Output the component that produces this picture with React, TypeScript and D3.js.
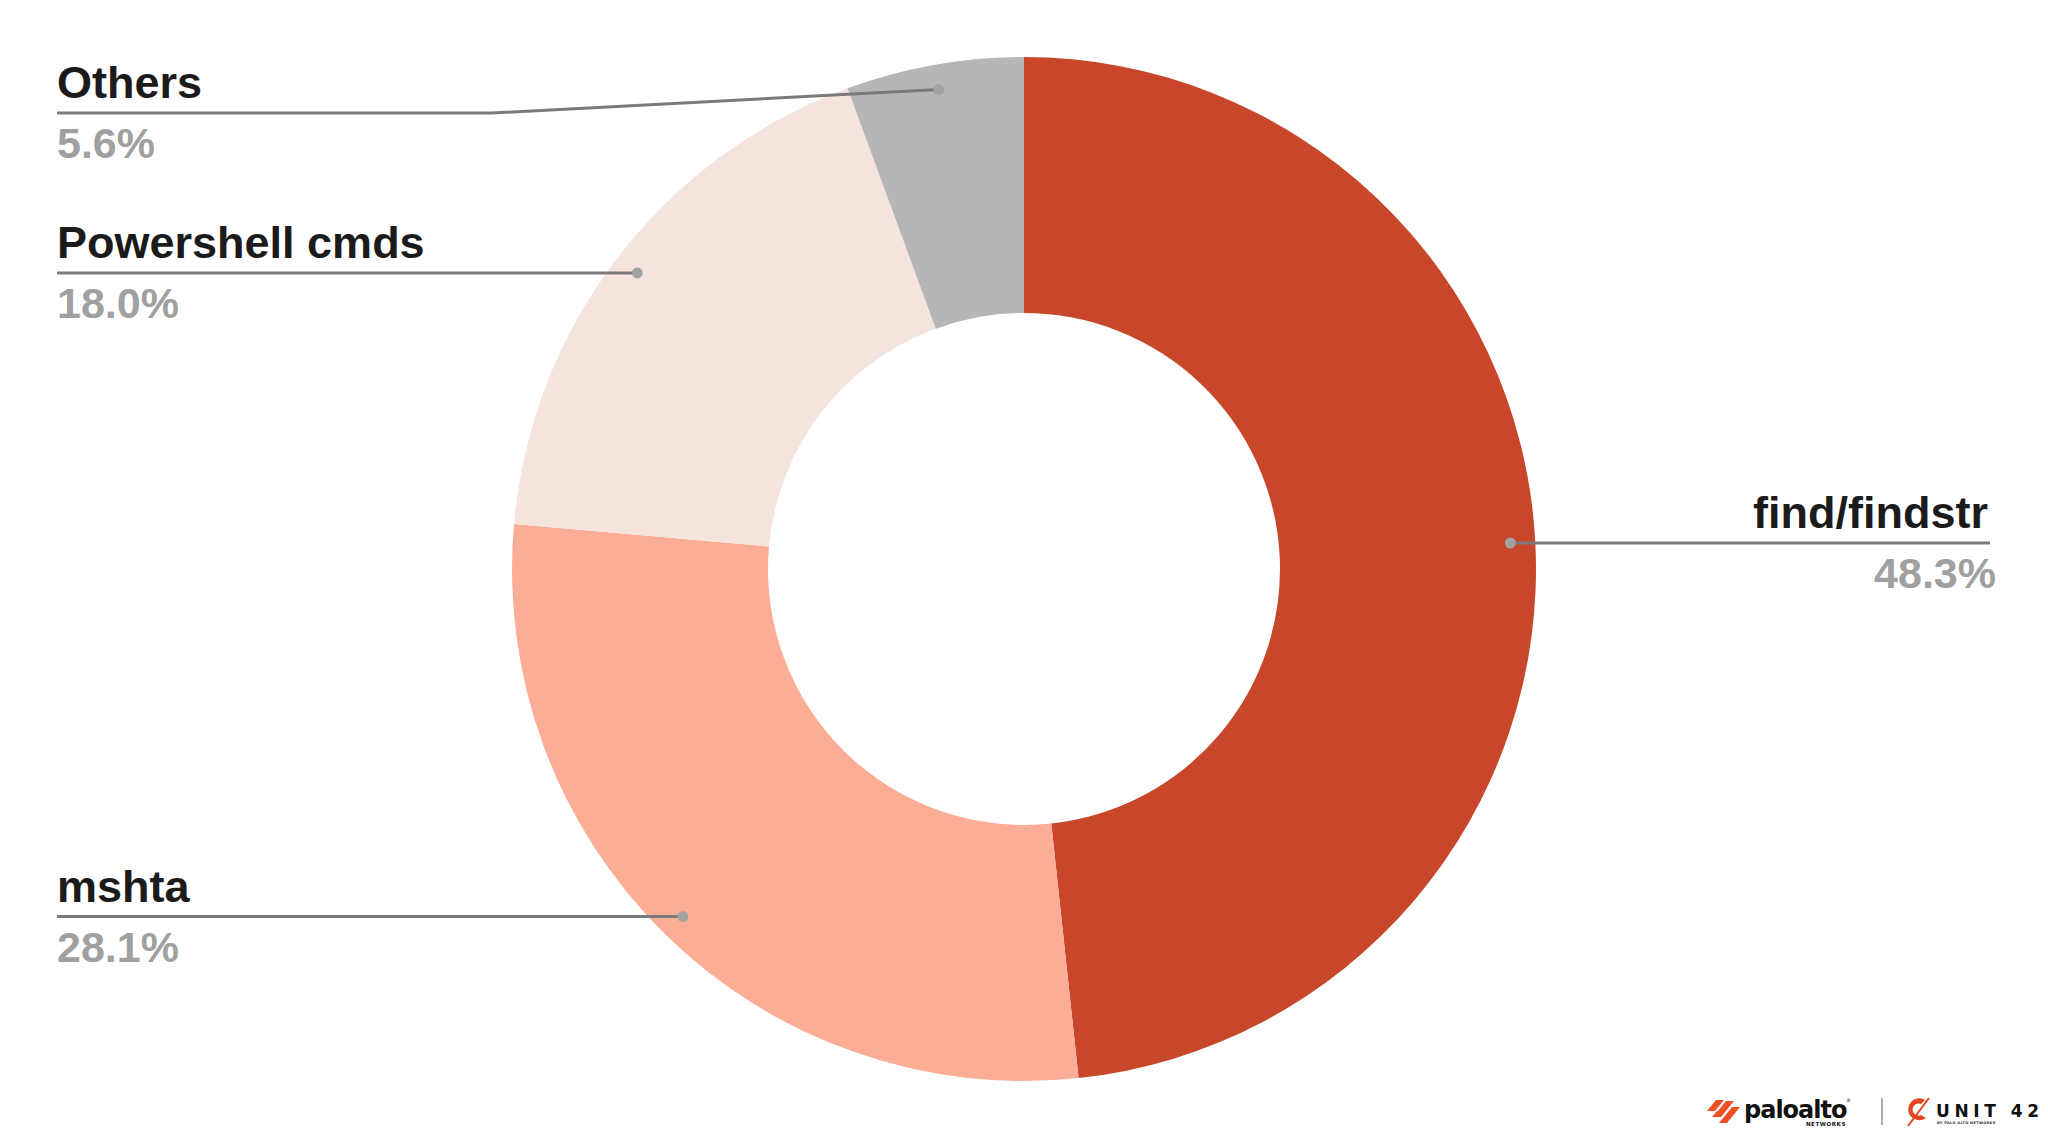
import * as d3 from 'd3';
import { useEffect } from 'react';

// slice data, clockwise from 12 o'clock
const categories = ['find/findstr', 'mshta', 'Powershell cmds', 'Others'];
const shares = [48.3, 28.1, 18.0, 5.6];
const sliceColors = ['#c8472a', '#fbad96', '#f5e4de', '#b6b6b6'];
const labelSide = ['right', 'left', 'left', 'left'];

const W = 2048;
const H = 1139;
const cx = 1024;
const cy = 569;
const outerR = 512;
const innerR = 256;
const dotR = 487;
const leftX = 57;
const rightX = 1990;
const minLineY = 113;

export default function App() {
  useEffect(() => {
    document.body.style.margin = '0';
  }, []);

  const pie = d3
    .pie<number>()
    .sort(null)
    .value((d) => d);
  const arcs = pie(shares);
  const arc = d3.arc<d3.PieArcDatum<number>>().innerRadius(innerR).outerRadius(outerR);
  const dotArc = d3.arc<d3.PieArcDatum<number>>().innerRadius(dotR).outerRadius(dotR);
  const font = '"Liberation Sans", Arial, Helvetica, sans-serif';

  return (
    <svg width={W} height={H} style={{ display: 'block', background: '#fff' }}>
      <g transform={`translate(${cx},${cy})`}>
        {arcs.map((a, i) => (
          <path key={categories[i]} d={arc(a) || ''} fill={sliceColors[i]} />
        ))}
      </g>

      {arcs.map((a, i) => {
        const [dx, dy] = dotArc.centroid(a);
        const px = cx + dx;
        const py = cy + dy;
        const lineY = Math.max(py, minLineY);
        const right = labelSide[i] === 'right';
        const tx = right ? rightX - 2 : leftX;
        const anchor = right ? 'end' : 'start';
        let pts: string;
        if (right) {
          pts = `${px},${py} ${rightX},${py}`;
        } else if (lineY !== py) {
          pts = `${leftX},${lineY} ${px - 447},${lineY} ${px},${py}`;
        } else {
          pts = `${leftX},${py} ${px},${py}`;
        }
        return (
          <g key={categories[i]}>
            <polyline points={pts} fill="none" stroke="#7a7a7a" strokeWidth={3} />
            <circle cx={px} cy={py} r={5.5} fill="#a3a3a3" />
            <text
              x={tx}
              y={lineY - 15}
              textAnchor={anchor}
              fontFamily={font}
              fontWeight="bold"
              fontSize={45}
              fill="#1b1b1b"
            >
              {categories[i]}
            </text>
            <text
              x={right ? tx + 8 : tx}
              y={lineY + 45}
              textAnchor={anchor}
              fontFamily={font}
              fontWeight="bold"
              fontSize={43}
              fill="#a0a0a0"
            >
              {shares[i].toFixed(1)}%
            </text>
          </g>
        );
      })}

      {/* footer logos */}
      <g>
        <g fill="#f04e23">
          <polygon points="1707,1111 1716,1100 1724,1100 1715,1111" />
          <polygon points="1713,1117 1726,1101 1734,1101 1721,1117" />
          <polygon points="1719,1123 1732,1107 1740,1107 1727,1123" />
          <polygon points="1712,1117 1717,1111 1722,1111 1717,1117" />
        </g>
        <text x={1744} y={1118} fontFamily='"DejaVu Sans", sans-serif' fontWeight="bold" fontSize={24} fill="#111" letterSpacing={-1}>
          paloalto
        </text>
        <text x={1846} y={1102} fontFamily='"DejaVu Sans", sans-serif' fontSize={5} fill="#111">
          ®
        </text>
        <text x={1846} y={1126} textAnchor="end" fontFamily='"DejaVu Sans", sans-serif' fontWeight="bold" fontSize={5.5} fill="#111" letterSpacing={0.6}>
          NETWORKS
        </text>
        <line x1={1882} x2={1882} y1={1098} y2={1125} stroke="#777" strokeWidth={1.2} />
        <path d="M1925,1100 A11,11 0 1 0 1926,1118 L1921,1115 A6,6 0 1 1 1921,1104 Z" fill="#e0461f" />
        <line x1={1908} y1={1126} x2={1929} y2={1098} stroke="#e0461f" strokeWidth={2} />
        <text x={1936} y={1117} fontFamily='"DejaVu Sans", sans-serif' fontWeight="bold" fontSize={17} fill="#111" letterSpacing={4.6}>
          UNIT 42
        </text>
        <text x={1937} y={1124} fontFamily='"DejaVu Sans", sans-serif' fontWeight="bold" fontSize={3.6} fill="#333" letterSpacing={0.3}>
          BY PALO ALTO NETWORKS
        </text>
      </g>
    </svg>
  );
}
